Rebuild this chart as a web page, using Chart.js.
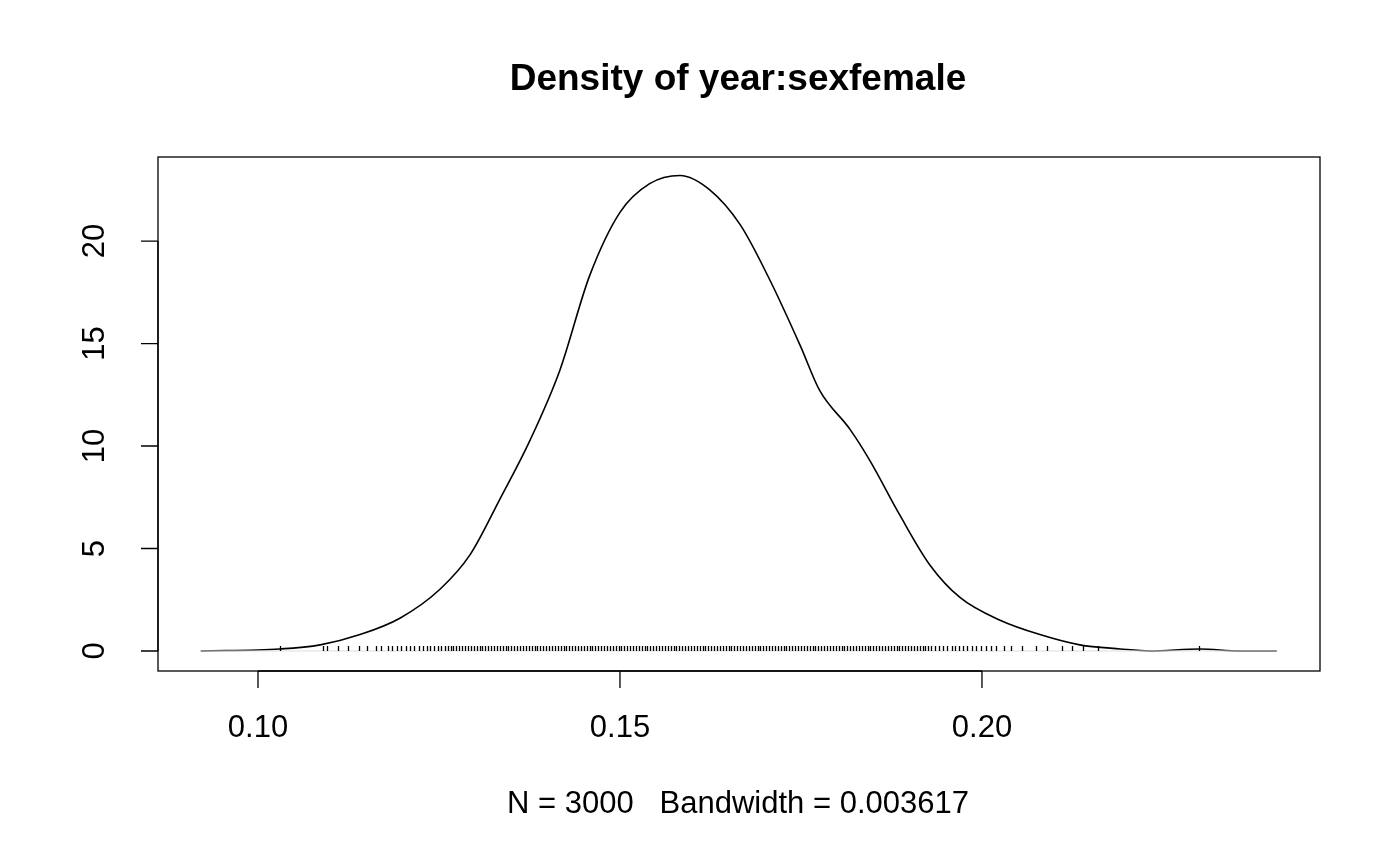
<!DOCTYPE html>
<html><head><meta charset="utf-8">
<script src="https://cdn.jsdelivr.net/npm/chart.js@4/dist/chart.umd.min.js"></script>
<style>html,body{margin:0;padding:0;background:#fff}#w{width:1400px;height:866px}</style>
</head><body><div id="w"><canvas id="c"></canvas></div>
<script>
const densX=[0.0921,0.103,0.1086,0.1141,0.1196,0.1251,0.1293,0.1334,0.1376,0.1417,0.1458,0.15,0.1541,0.1583,0.1624,0.1666,0.1707,0.1749,0.1776,0.1818,0.1845,0.1887,0.1928,0.197,0.2025,0.208,0.2135,0.2191,0.2232,0.2301,0.2356,0.2407];
const densY=[0,0.1,0.3,0.8,1.6,3.0,4.7,7.4,10.3,13.7,18.3,21.4,22.8,23.2,22.5,20.8,18.1,14.9,12.7,10.8,9.3,6.6,4.2,2.6,1.5,0.8,0.3,0.1,0,0.1,0,0];
const rugX=[0.1030,0.1090,0.1095,0.1110,0.1125,0.1140,0.1150,0.1163,0.1170,0.1180,0.1185,0.1192,0.1198,0.1205,0.1210,0.1216,0.1222,0.1228,0.1233,0.1238,0.1243,0.1248,0.1253,0.1258,0.1262,0.1266,0.1270,0.1274,0.1278,0.1282,0.1286,0.1290,0.1294,0.1298,0.1302,0.1306,0.1310,0.1314,0.1318,0.1322,0.1326,0.1330,0.1334,0.1338,0.1342,0.1346,0.1350,0.1354,0.1358,0.1362,0.1366,0.1370,0.1374,0.1378,0.1382,0.1386,0.1390,0.1394,0.1398,0.1402,0.1406,0.1410,0.1414,0.1418,0.1422,0.1426,0.1430,0.1434,0.1438,0.1442,0.1446,0.1450,0.1454,0.1458,0.1462,0.1466,0.1470,0.1474,0.1478,0.1482,0.1486,0.1490,0.1494,0.1498,0.1502,0.1506,0.1510,0.1514,0.1518,0.1522,0.1526,0.1530,0.1534,0.1538,0.1542,0.1546,0.1550,0.1554,0.1558,0.1562,0.1566,0.1570,0.1574,0.1578,0.1582,0.1586,0.1590,0.1594,0.1598,0.1602,0.1606,0.1610,0.1614,0.1618,0.1622,0.1626,0.1630,0.1634,0.1638,0.1642,0.1646,0.1650,0.1654,0.1658,0.1662,0.1666,0.1670,0.1674,0.1678,0.1682,0.1686,0.1690,0.1694,0.1698,0.1702,0.1706,0.1710,0.1714,0.1718,0.1722,0.1726,0.1730,0.1734,0.1738,0.1742,0.1746,0.1750,0.1754,0.1758,0.1762,0.1766,0.1770,0.1774,0.1778,0.1782,0.1786,0.1790,0.1794,0.1798,0.1802,0.1806,0.1810,0.1814,0.1818,0.1822,0.1826,0.1830,0.1834,0.1838,0.1842,0.1846,0.1850,0.1854,0.1858,0.1862,0.1866,0.1870,0.1874,0.1878,0.1882,0.1886,0.1890,0.1894,0.1898,0.1902,0.1906,0.1910,0.1914,0.1918,0.1922,0.1926,0.1930,0.1935,0.1940,0.1946,0.1952,0.1958,0.1963,0.1968,0.1974,0.1980,0.1986,0.1992,0.1998,0.2005,0.2012,0.2020,0.2030,0.2040,0.2055,0.2075,0.2090,0.2110,0.2125,0.2140,0.2160,0.2300];
const xTicks=[0.10,0.15,0.20], xTickLabels=["0.10","0.15","0.20"];
const yTicks=[0,5,10,15,20], yTickLabels=["0","5","10","15","20"];
const title="Density of year:sexfemale", subtitle="N = 3000   Bandwidth = 0.003617";
const F="Liberation Sans, Arial, sans-serif";
const deco={id:'deco',afterDraw(ch){
 const c=ch.ctx,a=ch.chartArea,xs=ch.scales.x,ys=ch.scales.y;
 c.save();c.strokeStyle='#000';c.lineWidth=1.3;c.strokeRect(a.left,a.top,a.right-a.left,a.bottom-a.top);
 c.fillStyle='#000';c.font='31px '+F;c.textAlign='center';c.textBaseline='middle';
 c.beginPath();c.moveTo(xs.getPixelForValue(xTicks[0]),a.bottom);c.lineTo(xs.getPixelForValue(xTicks[xTicks.length-1]),a.bottom);
 xTicks.forEach((v,i)=>{const p=xs.getPixelForValue(v);c.moveTo(p,a.bottom);c.lineTo(p,a.bottom+17);c.fillText(xTickLabels[i],p,a.bottom+57);});
 c.moveTo(a.left,ys.getPixelForValue(yTicks[0]));c.lineTo(a.left,ys.getPixelForValue(yTicks[yTicks.length-1]));
 yTicks.forEach((v,i)=>{const p=ys.getPixelForValue(v);c.moveTo(a.left,p);c.lineTo(a.left-17,p);
  c.save();c.translate(a.left-63,p);c.rotate(-Math.PI/2);c.fillText(yTickLabels[i],0,0);c.restore();});
 c.stroke();
 c.beginPath();c.lineWidth=1.3;const y0=ys.getPixelForValue(0);
 rugX.forEach(v=>{const p=Math.round(xs.getPixelForValue(v))+0.5;c.moveTo(p,y0);c.lineTo(p,y0-5);});c.stroke();
 c.font='bold 37px '+F;c.fillText(title,738,80);
 c.font='31px '+F;c.fillText(subtitle,738,804);
 c.restore();}};
new Chart(document.getElementById('c'),{type:'scatter',
 data:{datasets:[
  {data:[{x:densX[0],y:0},{x:densX[densX.length-1],y:0}],showLine:true,borderColor:'#dddddd',borderWidth:1,pointRadius:0},
  {data:densX.map((x,i)=>({x,y:densY[i]})),showLine:true,borderColor:'#000',borderWidth:1.6,pointRadius:0,cubicInterpolationMode:'monotone'}]},
 options:{responsive:true,maintainAspectRatio:false,animation:false,
  layout:{padding:{left:158,right:80,top:157,bottom:195}},
  plugins:{legend:{display:false},tooltip:{enabled:false}},
  scales:{x:{type:'linear',display:false,min:0.08619,max:0.24669},y:{display:false,min:-0.976,max:24.1}}},
 plugins:[deco]});
</script></body></html>
